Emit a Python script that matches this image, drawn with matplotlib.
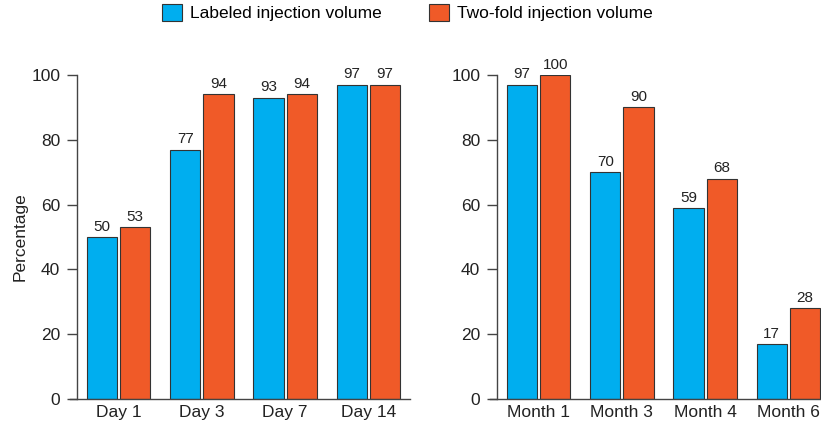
import numpy as np
import matplotlib.pyplot as plt
from matplotlib.patches import Patch

plt.rcParams['font.family'] = ['Liberation Sans', 'DejaVu Sans']

# data
days = ['Day 1', 'Day 3', 'Day 7', 'Day 14']
days_labeled = [50, 77, 93, 97]
days_twofold = [53, 94, 94, 97]

months = ['Month 1', 'Month 3', 'Month 4', 'Month 6']
months_labeled = [97, 70, 59, 17]
months_twofold = [100, 90, 68, 28]

BLUE = '#00AEEF'
ORANGE = '#F05A28'
EDGE = '#333333'
AXC = '#444444'
TXT = '#222222'


def draw_panel(ax, cats, labeled, twofold):
    x = np.arange(len(cats))
    w = 0.362
    off = 0.199
    b1 = ax.bar(x - off, labeled, w, color=BLUE, edgecolor=EDGE, linewidth=0.8)
    b2 = ax.bar(x + off, twofold, w, color=ORANGE, edgecolor=EDGE, linewidth=0.8)
    for bars in (b1, b2):
        for r in bars:
            ax.text(r.get_x() + r.get_width() / 2, r.get_height() + 1.0,
                    f'{int(r.get_height())}', ha='center', va='bottom',
                    fontsize=11, color=TXT, clip_on=False)
    ax.set_xlim(-0.5, len(cats) - 0.5)
    ax.set_ylim(0, 100)
    ax.set_xticks(x)
    ax.set_xticklabels(cats, fontsize=12.5, color=TXT)
    ax.set_yticks([0, 20, 40, 60, 80, 100])
    ax.tick_params(axis='x', length=0, pad=4)
    ax.tick_params(axis='y', length=7, width=1, color=AXC, labelsize=12.5,
                   labelcolor=TXT, pad=5)
    for s in ('top', 'right'):
        ax.spines[s].set_visible(False)
    for s in ('left', 'bottom'):
        ax.spines[s].set_color(AXC)
        ax.spines[s].set_linewidth(1)
    ax.spines['bottom'].set_bounds(-0.5 - 7 / 83.25, len(cats) - 0.5)


fig = plt.figure(figsize=(8.21, 4.26), dpi=100)
W, H = 821, 426
ax1 = fig.add_axes([77 / W, 27 / H, 333 / W, 324 / H])
ax2 = fig.add_axes([497 / W, 27 / H, 333 / W, 324 / H])

draw_panel(ax1, days, days_labeled, days_twofold)
draw_panel(ax2, months, months_labeled, months_twofold)
ax1.set_ylabel('Percentage', fontsize=12.5, color=TXT, labelpad=3)

handles = [Patch(facecolor=BLUE, edgecolor=EDGE, linewidth=0.8, label='Labeled injection volume'),
           Patch(facecolor=ORANGE, edgecolor=EDGE, linewidth=0.8, label='Two-fold injection volume')]
fig.legend(handles=handles, loc='upper center', bbox_to_anchor=(0.496, 1.027), ncol=2,
           frameon=False, fontsize=12.5, handlelength=1.15, handleheight=1.1,
           handletextpad=0.46, columnspacing=2.7)

fig.savefig('out.png', dpi=100)
